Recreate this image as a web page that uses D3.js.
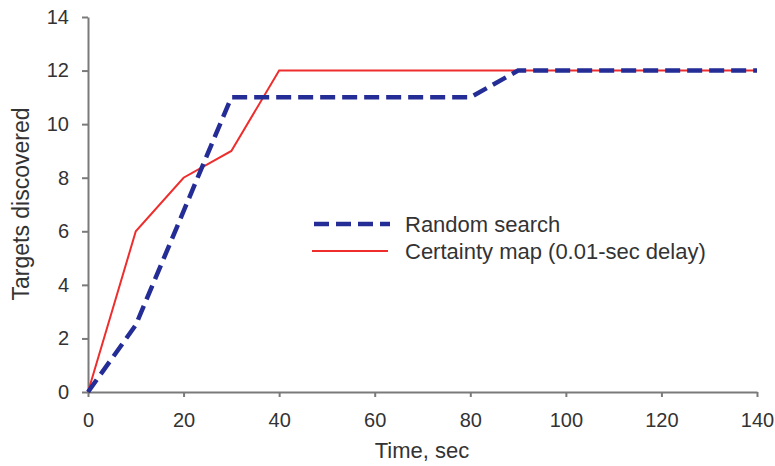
<!DOCTYPE html>
<html>
<head>
<meta charset="utf-8">
<script src="https://cdn.jsdelivr.net/npm/d3@7"></script>
<style>
  body { margin: 0; background: #fff; }
  text { font-family: "Liberation Sans", Arial, sans-serif; fill: #333; }
</style>
</head>
<body>
<script>
// data
const randomTime = [0, 10, 30, 80, 90, 140];
const randomTargets = [0, 2.5, 11, 11, 12, 12];
const certTime = [0, 10, 20, 30, 40, 140];
const certTargets = [0, 6, 8, 9, 12, 12];
const xTicks = [0, 20, 40, 60, 80, 100, 120, 140];
const yTicks = [0, 2, 4, 6, 8, 10, 12, 14];
const seriesNames = ["Random search", "Certainty map (0.01-sec delay)"];

const width = 775, height = 466;
const margin = {left: 88, right: 18, top: 17, bottom: 74};

const svg = d3.select('body').append('svg')
    .attr('width', width)
    .attr('height', height);

const x = d3.scaleLinear().domain([0, 140]).range([margin.left, width - margin.right]);
const y = d3.scaleLinear().domain([0, 14]).range([height - margin.bottom, margin.top]);

const axisColor = '#7a7a7a';

// x axis
let gx = svg.append('g')
    .attr('transform', `translate(0,${y(0)})`)
    .call(d3.axisBottom(x).tickValues(xTicks).tickSize(5).tickSizeOuter(0).tickPadding(16));
gx.select('.domain').attr('stroke', axisColor).attr('stroke-width', 2);
gx.selectAll('.tick line').attr('stroke', axisColor).attr('stroke-width', 2);
gx.selectAll('.tick text').style('font-size', '20px').attr('fill', '#333');

// y axis
let gy = svg.append('g')
    .attr('transform', `translate(${x(0)},0)`)
    .call(d3.axisLeft(y).tickValues(yTicks).tickSize(6).tickSizeOuter(0).tickPadding(13));
gy.select('.domain').attr('stroke', axisColor).attr('stroke-width', 2);
gy.selectAll('.tick line').attr('stroke', axisColor).attr('stroke-width', 2);
gy.selectAll('.tick text').style('font-size', '20px').attr('fill', '#333');

// axis titles
svg.append('text')
    .attr('x', 422)
    .attr('y', 458)
    .attr('text-anchor', 'middle')
    .style('font-size', '22px')
    .text('Time, sec');

svg.append('text')
    .attr('transform', `translate(29,204) rotate(-90)`)
    .attr('text-anchor', 'middle')
    .style('font-size', '23px')
    .text('Targets discovered');

const line = d3.line()
    .x(d => x(d[0]))
    .y(d => y(d[1]));

const red = '#ee2d2d';
const blue = '#242c96';

svg.append('path')
    .datum(d3.zip(certTime, certTargets))
    .attr('d', line)
    .attr('fill', 'none')
    .attr('stroke', red)
    .attr('stroke-width', 2);

svg.append('path')
    .datum(d3.zip(randomTime, randomTargets))
    .attr('d', line)
    .attr('fill', 'none')
    .attr('stroke', blue)
    .attr('stroke-width', 4.5)
    .attr('stroke-dasharray', '15,7');

// legend
let legend = svg.append('g');
legend.append('line')
    .attr('x1', 314).attr('x2', 390)
    .attr('y1', 224).attr('y2', 224)
    .attr('stroke', blue).attr('stroke-width', 4.5)
    .attr('stroke-dasharray', '15,7');
legend.append('line')
    .attr('x1', 312).attr('x2', 388)
    .attr('y1', 251).attr('y2', 251)
    .attr('stroke', red).attr('stroke-width', 2);
legend.selectAll('text.lab')
    .data(seriesNames)
    .enter()
    .append('text')
    .attr('class', 'lab')
    .attr('x', 405)
    .attr('y', (d, i) => 232 + i * 27)
    .style('font-size', '22px')
    .text(d => d);
</script>
</body>
</html>
